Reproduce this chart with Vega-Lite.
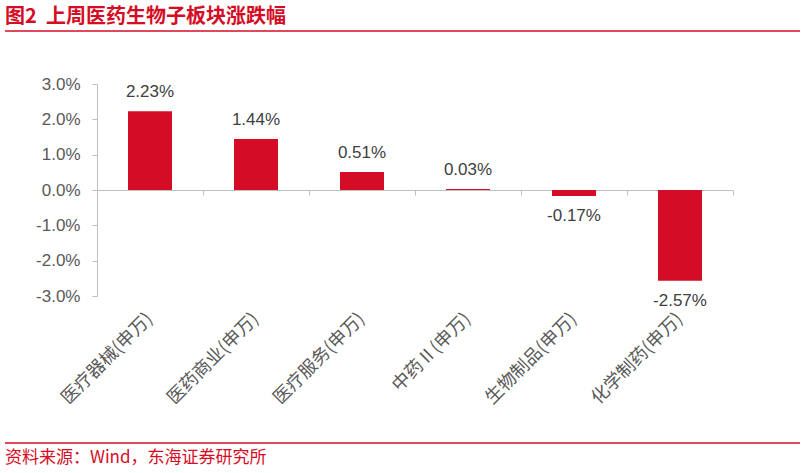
{
  "$schema": "https://vega.github.io/schema/vega-lite/v6.json",
  "autosize": {"type": "none"},
  "width": 636,
  "height": 212,
  "padding": {"left": 97, "top": 84, "right": 72, "bottom": 177},
  "background": "white",
  "config": {
    "view": {"stroke": null},
    "font": "Liberation Sans, Noto Sans CJK SC",
    "axis": {"labelFont": "Liberation Sans, Noto Sans CJK SC"}
  },
  "data": {"values": [
    {"sector": "医疗器械(申万)", "v": 0.0223},
    {"sector": "医药商业(申万)", "v": 0.0144},
    {"sector": "医疗服务(申万)", "v": 0.0051},
    {"sector": "中药Ⅱ(申万)", "v": 0.0003},
    {"sector": "生物制品(申万)", "v": -0.0017},
    {"sector": "化学制药(申万)", "v": -0.0257}
  ]},
  "layer": [
    {
      "mark": {"type": "bar", "color": "#d50c25", "width": 44},
      "encoding": {
        "x": {"field": "sector", "type": "nominal", "sort": null,
          "scale": {"paddingInner": 0, "paddingOuter": 0},
          "axis": {"orient": "bottom", "title": null, "domain": false, "ticks": false,
            "labelAngle": -45, "labelAlign": "right", "labelBaseline": "middle",
            "labelPadding": 20, "labelFontSize": 18, "labelColor": "#595959",
            "labelFont": "Noto Sans CJK SC", "labelOverlap": false}},
        "y": {"field": "v", "type": "quantitative",
          "scale": {"domain": [-0.03, 0.03], "nice": false},
          "axis": {"title": null, "values": [-0.03, -0.02, -0.01, 0, 0.01, 0.02, 0.03],
            "labelExpr": "replace(format(datum.value, '.1%'), '\u2212', '-')",
            "labelOverlap": false, "labelFlush": false,
            "grid": false, "domainColor": "#bfbfbf", "tickColor": "#bfbfbf", "tickSize": 5,
            "labelPadding": 12, "labelFontSize": 17, "labelColor": "#595959", "domainWidth": 1}}
      }
    },
    {
      "mark": {"type": "text", "fontSize": 17, "color": "#404040", "baseline": "middle",
        "dy": {"expr": "datum.v < 0 ? 20 : -19"},
        "text": {"expr": "replace(format(datum.v, '.2%'), '\u2212', '-')"}},
      "encoding": {
        "x": {"field": "sector", "type": "nominal", "sort": null,
          "axis": {"orient": "top", "offset": -106, "title": null, "labels": false,
            "domainColor": "#bfbfbf", "tickColor": "#bfbfbf", "tickSize": -5, "tickBand": "extent"}},
        "y": {"field": "v", "type": "quantitative",
          "scale": {"domain": [-0.03, 0.03], "nice": false},
          "axis": {"title": null, "values": [-0.03, -0.02, -0.01, 0, 0.01, 0.02, 0.03],
            "labelExpr": "replace(format(datum.value, '.1%'), '\u2212', '-')",
            "labelOverlap": false, "labelFlush": false,
            "grid": false, "domainColor": "#bfbfbf", "tickColor": "#bfbfbf", "tickSize": 5,
            "labelPadding": 12, "labelFontSize": 17, "labelColor": "#595959", "domainWidth": 1}}
      }
    },
    {
      "data": {"values": [{"t": "图2\u00a0\u00a0上周医药生物子板块涨跌幅"}]},
      "mark": {"type": "text", "align": "left", "baseline": "middle", "fontSize": 20, "fontWeight": "bold", "color": "#d50c25", "font": "Noto Sans CJK SC"},
      "encoding": {"text": {"field": "t"}, "x": {"value": -92}, "y": {"value": -67}}
    },
    {
      "data": {"values": [{"t": "资料来源：Wind，东海证券研究所"}]},
      "mark": {"type": "text", "align": "left", "baseline": "middle", "fontSize": 17, "color": "#d50c25", "font": "Noto Sans CJK SC"},
      "encoding": {"text": {"field": "t"}, "x": {"value": -92}, "y": {"value": 374}}
    },
    {
      "data": {"values": [{"y": -53}, {"y": 359}]},
      "mark": {"type": "rule", "color": "#d50c25", "strokeWidth": 1.5},
      "encoding": {"x": {"value": -92}, "x2": {"value": 703}, "y": {"field": "y", "type": "quantitative", "scale": null}}
    }
  ],
  "resolve": {"axis": {"x": "independent"}}
}
